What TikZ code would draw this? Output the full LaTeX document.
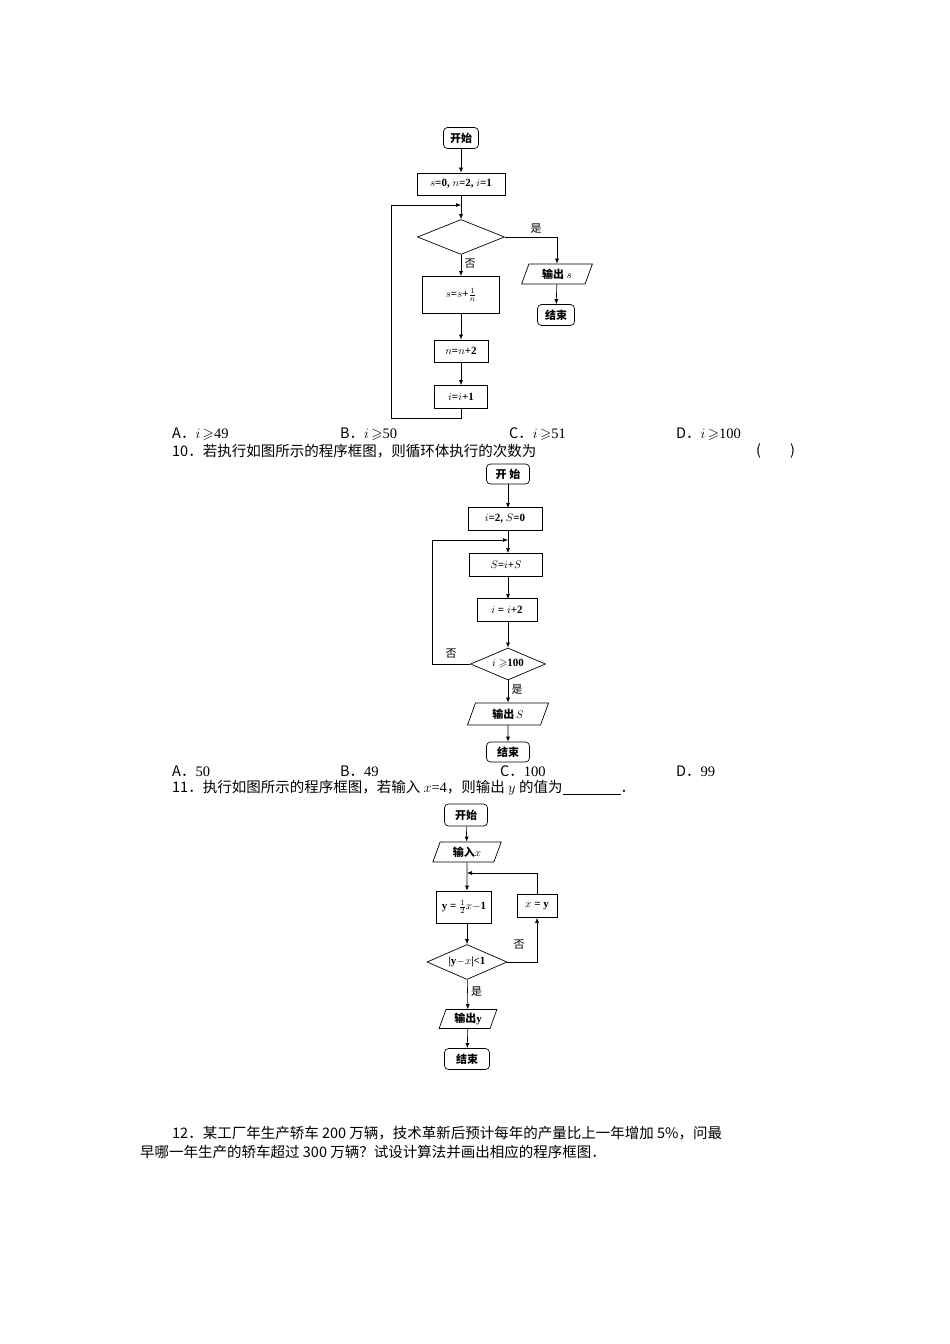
\documentclass[tikz,border=0pt]{standalone}
\usepackage{amssymb}
\usepackage{fontspec}
\setmainfont{Liberation Serif}
\newfontfamily\cjk{Noto Sans CJK SC}
\usetikzlibrary{shapes.geometric,arrows.meta}
\begin{document}
\begin{tikzpicture}[x=1pt,y=-1pt,
  every node/.style={font=\fontsize{11}{13}\selectfont\bfseries},
  term/.style={draw,rounded corners=4pt,inner sep=0pt,minimum width=36pt,minimum height=21pt,line width=0.7pt},
  proc/.style={draw,inner sep=0pt,line width=0.7pt},
  io/.style={draw,trapezium,trapezium left angle=70,trapezium right angle=110,inner sep=0pt,line width=0.7pt},
  dec/.style={draw,diamond,aspect=2.4,inner sep=0pt,line width=0.7pt},
  lab/.style={font=\fontsize{11}{13}\selectfont\cjk},
  txt/.style={anchor=west,inner sep=0pt,font=\fontsize{14.5}{17}\selectfont\cjk},
  ar/.style={-{Latex[length=5pt,width=4pt]},line width=0.6pt},
  ln/.style={line width=0.6pt}]
\useasboundingbox[fill=white] (0,0) rectangle (950,1344);
% ---- chart 1
\node[term,minimum width=35pt] (a1) at (461,138) {\cjk 开始};
\node[proc,minimum width=88pt,minimum height=22pt] (a2) at (461,184) {$s$=0, $n$=2, $i$=1};
\node[dec,minimum width=87pt,minimum height=35pt] (a3) at (461,237) {};
\node[proc,minimum width=77pt,minimum height=37pt] (a4) at (461,295) {$s$=$s$+$\frac{1}{n}$};
\node[proc,minimum width=54pt,minimum height=22pt] (a5) at (461,351) {$n$=$n$+2};
\node[proc,minimum width=53pt,minimum height=23pt] (a6) at (461,397) {$i$=$i$+1};
\node[io,minimum width=52pt,minimum height=20pt] (a7) at (557,274) {\cjk 输出 \normalfont\bfseries$s$};
\node[term,minimum width=37pt] (a8) at (556,315) {\cjk 结束};
\coordinate (j1) at (461,205);
\draw[ar] (a1) -- (a2);
\draw[ar] (a2) -- (a3);
\draw[ar] (a3) -- node[lab,right,pos=0.4]{否} (a4);
\draw[ar] (a4) -- (a5);
\draw[ar] (a5) -- (a6);
\draw[ar] (a3.east) -| node[lab,above,pos=0.3]{是} (a7.north);
\draw[ar] (a7) -- (a8);
\draw[ar] (a6.south) -- (461,418) -- (391,418) |- (j1);
% options 1
\node[txt] (o1) at (172,434) {A．\normalfont$i$\,$\geqslant$49};
\node[txt] (o2) at (340,434) {B．\normalfont$i$\,$\geqslant$50};
\node[txt] (o3) at (509,434) {C．\normalfont$i$\,$\geqslant$51};
\node[txt] (o4) at (676,434) {D．\normalfont$i$\,$\geqslant$100};
\node[txt] (q10) at (172,451) {10．若执行如图所示的程序框图，则循环体执行的次数为};
\node[txt] (q10b) at (756,451) {(\hspace{2em})};
% ---- chart 2
\node[term,minimum width=43pt,minimum height=20pt] (b1) at (508,474) {\cjk 开 始};
\node[proc,minimum width=74pt,minimum height=23pt] (b2) at (505,519) {$i$=2, $S$=0};
\node[proc,minimum width=73pt,minimum height=23pt] (b3) at (506,565) {$S$=$i$+$S$};
\node[proc,minimum width=60pt,minimum height=23pt] (b4) at (507,610) {$i$ = $i$+2};
\node[dec,minimum width=75pt,minimum height=32pt] (b5) at (508,664) {$i\geqslant$100};
\node[io,minimum width=64pt,minimum height=22pt] (b6) at (508,714) {\cjk 输出\normalfont\bfseries\,$S$};
\node[term,minimum width=43pt,minimum height=20pt] (b7) at (508,752) {\cjk 结束};
\coordinate (j2) at (508,540);
\draw[ar] (b1) -- (508,508);
\draw[ar] (508,531) -- (508,553);
\draw[ar] (b3.south-|508,0) -- (508,599);
\draw[ar] (508,622) -- (b5.north);
\draw[ar] (b5) -- node[lab,right,pos=0.4]{是} (b6);
\draw[ar] (b6) -- (b7);
\draw[ar] (b5.west) -- node[lab,above,pos=0.5,yshift=2pt]{否} (432,664) |- (j2);
\node[txt] (p1) at (172,771) {A．\normalfont 50};
\node[txt] (p2) at (340,771) {B．\normalfont 49};
\node[txt] (p3) at (500,771) {C．\normalfont 100};
\node[txt] (p4) at (676,771) {D．\normalfont 99};
\node[txt] (q11) at (172,788) {11．执行如图所示的程序框图，若输入 \normalfont$x$=4\cjk，则输出 \normalfont$y$ \cjk 的值为\underline{\hspace{4em}}．};
% ---- chart 3
\node[term,minimum width=43pt,minimum height=22pt] (c1) at (466,815) {\cjk 开始};
\node[io,minimum width=52pt,minimum height=20pt] (c2) at (467,852) {\cjk 输入\normalfont\bfseries$x$};
\node[proc,minimum width=55pt,minimum height=32pt] (c3) at (464,907) {y = $\frac{1}{2}x$$-$1};
\node[proc,minimum width=40pt,minimum height=23pt] (c4) at (537,906) {$x$ = y};
\node[dec,minimum width=80pt,minimum height=35pt] (c5) at (467,962) {|y$-$$x$|<1};
\node[io,minimum width=54pt,minimum height=19pt] (c6) at (468,1019) {\cjk 输出\normalfont\bfseries y};
\node[term,minimum width=45pt,minimum height=21pt] (c7) at (467,1059) {\cjk 结束};
\coordinate (j3) at (467,873);
\draw[ar] (c1) -- (c2);
\draw[ar] (c2) -- (c3.north-|c2);
\draw[ar] (c3.south-|c5) -- (c5);
\draw[ar] (c5) -- node[lab,right,pos=0.4]{是} (c6);
\draw[ar] (c6) -- (c7);
\draw[ar] (c5.east) -| node[lab,above,pos=0.6,xshift=-18pt]{否} (c4.south);
\draw[ar] (c4.north) |- (j3);
% ---- question 12
\node[txt] (q12a) at (172,1133) {12．某工厂年生产轿车 200 万辆，技术革新后预计每年的产量比上一年增加 5\%，问最};
\node[txt] (q12b) at (140,1152) {早哪一年生产的轿车超过 300 万辆？试设计算法并画出相应的程序框图．};
\end{tikzpicture}
\end{document}
